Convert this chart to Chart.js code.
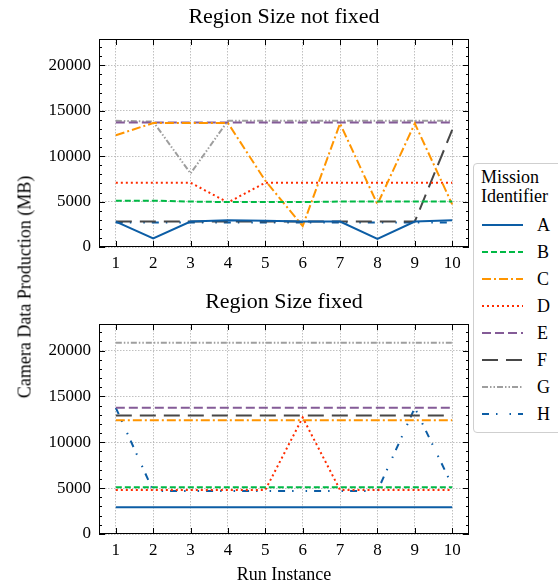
<!DOCTYPE html>
<html lang="en">
<head>
<meta charset="UTF-8">
<title>Camera Data Production</title>
<script src="https://cdn.jsdelivr.net/npm/chart.js"></script>
<style>
  body { margin: 0; background: #fff; width: 558px; height: 588px; overflow: hidden; position: relative; font-family: "Liberation Serif", serif; }
  canvas { position: absolute; left: 0; }
  #ylabel { position: absolute; left: 25px; top: 287px; transform: translate(-50%, -50%) rotate(-90deg); font-size: 18px; white-space: nowrap; }
  #legend { position: absolute; left: 473px; top: 163px; width: 110px; height: 268px; border: 1px solid #cfcfcf; border-radius: 4px; background: #fff; }
  #legend .ttl { position: absolute; left: 7px; top: 4px; font-size: 18px; line-height: 19px; }
  #legend .item { position: absolute; left: 7px; height: 20px; font-size: 18px; }
  #legend .item canvas { position: absolute; left: 0; top: 5px; }
  #legend .item span { position: absolute; left: 56px; top: 0; line-height: 20px; }
</style>
</head>
<body>
<canvas id="topChart" width="558" height="272" style="top:0"></canvas>
<canvas id="bottomChart" width="558" height="303" style="top:285px"></canvas>
<div id="ylabel">Camera Data Production (MB)</div>
<div id="legend"><div class="ttl">Mission<br>Identifier</div></div>

<script>
  // run numbers on the x axis
  const runs = [1, 2, 3, 4, 5, 6, 7, 8, 9, 10];
  const missions = ["A", "B", "C", "D", "E", "F", "G", "H"];

  // Region Size not fixed (MB)
  const notFixedA = [2800, 950, 2800, 2950, 2900, 2800, 2800, 880, 2800, 2950];
  const notFixedB = [5100, 5100, 5000, 4950, 4950, 4950, 5000, 5000, 5000, 5000];
  const notFixedC = [12300, 13650, 13650, 13650, 7300, 2300, 13600, 4700, 13600, 4700];
  const notFixedD = [7080, 7080, 7080, 4900, 7080, 7080, 7080, 7080, 7080, 7080];
  const notFixedE = [13700, 13700, 13700, 13700, 13700, 13700, 13700, 13700, 13700, 13700];
  const notFixedF = [2800, 2800, 2800, 2800, 2800, 2800, 2800, 2800, 2800, 12900];
  const notFixedG = [13900, 13800, 8100, 13900, 13900, 13900, 13900, 13900, 13900, 13900];
  const notFixedH = [2700, 2700, 2700, 2700, 2700, 2700, 2700, 2700, 2700, 2700];

  // Region Size fixed (MB)
  const fixedA = [2920, 2920, 2920, 2920, 2920, 2920, 2920, 2920, 2920, 2920];
  const fixedB = [5100, 5100, 5100, 5100, 5100, 5100, 5100, 5100, 5100, 5100];
  const fixedC = [12400, 12400, 12400, 12400, 12400, 12400, 12400, 12400, 12400, 12400];
  const fixedD = [4800, 4800, 4800, 4800, 4800, 12700, 4800, 4800, 4800, 4800];
  const fixedE = [13760, 13760, 13760, 13760, 13760, 13760, 13760, 13760, 13760, 13760];
  const fixedF = [12920, 12920, 12920, 12920, 12920, 12920, 12920, 12920, 12920, 12920];
  const fixedG = [20850, 20850, 20850, 20850, 20850, 20850, 20850, 20850, 20850, 20850];
  const fixedH = [13760, 4700, 4700, 4700, 4700, 4700, 4700, 4700, 13760, 5300];

  const yTicks = [0, 5000, 10000, 15000, 20000];

  // line look per mission
  const colors = ["#0C5DA5", "#00B945", "#FF9500", "#FF2C00", "#845B97", "#474747", "#9e9e9e", "#0C5DA5"];
  const dashes = [[], [6, 3], [9, 3, 2, 3], [2, 3], [9, 4], [16, 8], [6, 2, 1.5, 2, 1.5, 2], [7, 7, 1.5, 12, 1.5, 7]];

  const FONT = "Liberation Serif";

  function makeDatasets(series) {
    return series.map((vals, i) => ({
      label: missions[i],
      data: runs.map((r, j) => ({ x: r, y: vals[j] })),
      borderColor: colors[i],
      borderDash: dashes[i],
      borderWidth: 2,
      pointRadius: 0,
      tension: 0,
      fill: false
    }));
  }

  // black frame plus inward ticks on all four sides
  const frameTicks = {
    id: "frameTicks",
    afterDatasetsDraw(chart) {
      const { ctx, chartArea: a, scales: { x, y } } = chart;
      ctx.save();
      ctx.strokeStyle = "#000";
      ctx.lineWidth = 1;
      ctx.setLineDash([]);
      ctx.strokeRect(a.left + 0.5, a.top + 0.5, a.width - 1, a.height - 1);
      ctx.beginPath();
      runs.forEach(r => {
        const px = Math.round(x.getPixelForValue(r)) + 0.5;
        ctx.moveTo(px, a.bottom); ctx.lineTo(px, a.bottom - 6);
        ctx.moveTo(px, a.top); ctx.lineTo(px, a.top + 6);
      });
      for (let v = 0; v <= y.max; v += 1000) {
        const len = v % 5000 === 0 ? 6 : 3;
        const py = Math.round(y.getPixelForValue(v)) + 0.5;
        ctx.moveTo(a.left, py); ctx.lineTo(a.left + len, py);
        ctx.moveTo(a.right, py); ctx.lineTo(a.right - len, py);
      }
      ctx.stroke();
      ctx.restore();
    }
  };

  function makeChart(id, title, series, xHeight, showXTitle) {
    return new Chart(document.getElementById(id), {
      type: "line",
      data: { datasets: makeDatasets(series) },
      options: {
        responsive: false,
        animation: false,
        layout: { padding: { left: 0, right: 89, top: 0, bottom: 0 } },
        plugins: {
          legend: { display: false },
          tooltip: { enabled: false },
          title: {
            display: true, text: title, color: "#000", fullSize: false,
            font: { family: FONT, size: 22, weight: "normal", lineHeight: 1.2 },
            padding: { top: 4, bottom: 8.6 }
          }
        },
        scales: {
          x: {
            type: "linear", min: 0.55, max: 10.45,
            afterBuildTicks: s => { s.ticks = runs.map(v => ({ value: v })); },
            afterFit: s => { s.height = xHeight; },
            ticks: { color: "#000", padding: 6, font: { family: FONT, size: 17 } },
            grid: { color: "#b0b0b0", lineWidth: 0.8, drawTicks: false },
            border: { display: false, dash: [1.5, 1.5] },
            title: {
              display: showXTitle, text: "Run Instance", color: "#000",
              font: { family: FONT, size: 18 }, padding: { top: 2, bottom: 2 }
            }
          },
          y: {
            min: 0, max: 22900,
            afterBuildTicks: s => { s.ticks = yTicks.map(v => ({ value: v })); },
            afterFit: s => { s.width = 99; },
            ticks: { color: "#000", padding: 8, callback: v => String(v), font: { family: FONT, size: 17 } },
            grid: { color: "#b0b0b0", lineWidth: 0.8, drawTicks: false },
            border: { display: false, dash: [1.5, 1.5] }
          }
        }
      },
      plugins: [frameTicks]
    });
  }

  makeChart("topChart", "Region Size not fixed",
    [notFixedA, notFixedB, notFixedC, notFixedD, notFixedE, notFixedF, notFixedG, notFixedH], 25, false);
  makeChart("bottomChart", "Region Size fixed",
    [fixedA, fixedB, fixedC, fixedD, fixedE, fixedF, fixedG, fixedH], 54, true);

  // legend with line samples
  const legend = document.getElementById("legend");
  missions.forEach((m, i) => {
    const item = document.createElement("div");
    item.className = "item";
    item.style.top = (51 + i * 27) + "px";
    const c = document.createElement("canvas");
    c.width = 42; c.height = 10;
    const g = c.getContext("2d");
    g.strokeStyle = colors[i];
    g.lineWidth = 2;
    g.setLineDash(dashes[i]);
    g.beginPath(); g.moveTo(1, 5); g.lineTo(42, 5); g.stroke();
    const s = document.createElement("span");
    s.textContent = m;
    item.appendChild(c);
    item.appendChild(s);
    legend.appendChild(item);
  });
</script>
</body>
</html>
